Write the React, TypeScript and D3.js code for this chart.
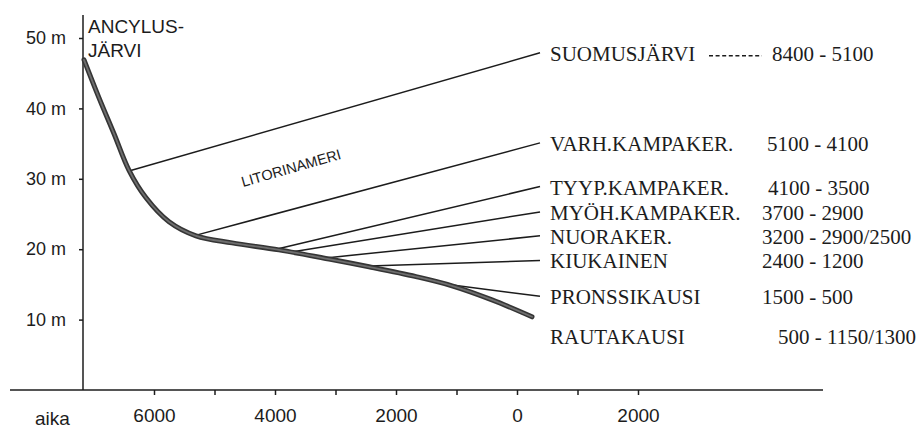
import { useRef, useEffect } from "react";
import * as d3 from "d3";

// shoreline curve: year (BC negative) and level above present sea (m)
const curveYears = [-7157, -6909, -6661, -6413, -6132, -5752, -5306, -4711, -3934, -3107, -2446, -1669, -1074, -413, 248];
const curveLevels = [46.9, 41.5, 36.4, 31.2, 27.3, 23.9, 21.9, 20.9, 19.9, 18.6, 17.5, 16.1, 14.8, 12.8, 10.4];

const periods = [
  "SUOMUSJÄRVI",
  "VARH.KAMPAKER.",
  "TYYP.KAMPAKER.",
  "MYÖH.KAMPAKER.",
  "NUORAKER.",
  "KIUKAINEN",
  "PRONSSIKAUSI",
  "RAUTAKAUSI",
];
const periodDates = [
  "8400 - 5100",
  "5100 - 4100",
  "4100 - 3500",
  "3700 - 2900",
  "3200 - 2900/2500",
  "2400 - 1200",
  "1500 - 500",
  "500 - 1150/1300",
];

// leader lines from the curve out to the labels
const branchStartYears = [-6413, -5300, -3930, -3730, -3120, -2450, -1070];
const branchStartLevels = [31.1, 22.0, 20.1, 19.6, 18.8, 17.6, 14.9];
const branchEndYear = 380;
const branchEndLevels = [47.9, 35.1, 28.9, 25.3, 21.9, 18.4, 13.3];

const yTicks = [10, 20, 30, 40, 50];
const xTicks = [-6000, -5000, -4000, -3000, -2000, -1000, 0, 1000, 2000];
const xLabelled = [-6000, -4000, -2000, 0, 2000];

const SANS = "'Liberation Sans', Arial, sans-serif";
const SERIF = "'Liberation Serif', 'Times New Roman', serif";
const INK = "#1c1c1c";

export default function App() {
  const svgRef = useRef<SVGSVGElement>(null);

  useEffect(() => {
    if (!svgRef.current) return;
    const svg = d3.select(svgRef.current);
    svg.selectAll("*").remove();

    const x = d3.scaleLinear().domain([-6000, 2000]).range([154, 638]);
    const y = d3.scaleLinear().domain([0, 50]).range([390, 38]);
    const axisX = 83;

    // x axis
    const gx = svg.append("g").attr("transform", `translate(0,${y(0)})`);
    gx.append("line")
      .attr("x1", 10).attr("x2", 823)
      .attr("stroke", INK).attr("stroke-width", 1.5);
    gx.call(
      d3.axisBottom(x)
        .tickValues(xTicks)
        .tickSize(5)
        .tickPadding(14)
        .tickFormat((d) => (xLabelled.includes(+d) ? String(Math.abs(+d)) : ""))
    );
    gx.select(".domain").remove();
    gx.selectAll(".tick line").attr("stroke", INK).attr("stroke-width", 1.5);
    gx.selectAll(".tick text")
      .attr("fill", INK)
      .attr("font-family", SANS)
      .attr("font-size", 19);

    svg.append("text")
      .attr("x", 35).attr("y", 425)
      .attr("font-family", SANS).attr("font-size", 19)
      .attr("fill", INK)
      .text("aika");

    // y axis
    const gy = svg.append("g").attr("transform", `translate(${axisX},0)`);
    gy.append("line")
      .attr("y1", 15).attr("y2", y(0))
      .attr("stroke", INK).attr("stroke-width", 1.5);
    gy.call(
      d3.axisLeft(y)
        .tickValues(yTicks)
        .tickSize(4)
        .tickPadding(13)
        .tickFormat((d) => `${d} m`)
    );
    gy.select(".domain").remove();
    gy.selectAll(".tick line").attr("stroke", INK).attr("stroke-width", 1.5);
    gy.selectAll(".tick text")
      .attr("fill", INK)
      .attr("font-family", SANS)
      .attr("font-size", 18);

    svg.append("text")
      .attr("font-family", SANS).attr("font-size", 19).attr("fill", INK)
      .selectAll("tspan")
      .data(["ANCYLUS-", "JÄRVI"])
      .join("tspan")
      .attr("x", 88)
      .attr("y", (_, i) => 33 + i * 24)
      .text((d) => d);

    // leader lines
    svg.append("g")
      .selectAll("line")
      .data(branchStartYears)
      .join("line")
      .attr("x1", (d) => x(d))
      .attr("y1", (_, i) => y(branchStartLevels[i]))
      .attr("x2", x(branchEndYear))
      .attr("y2", (_, i) => y(branchEndLevels[i]))
      .attr("stroke", INK)
      .attr("stroke-width", 1.5);

    // shoreline displacement curve, drawn as a dark band with a lighter core
    const pts = curveYears.map((yr, i) => [yr, curveLevels[i]] as [number, number]);
    const line = d3.line<[number, number]>()
      .x((d) => x(d[0]))
      .y((d) => y(d[1]))
      .curve(d3.curveCatmullRom.alpha(0.5));
    svg.append("path")
      .datum(pts)
      .attr("fill", "none")
      .attr("stroke", "#353535")
      .attr("stroke-width", 5)
      .attr("stroke-linecap", "round")
      .attr("d", line);
    svg.append("path")
      .datum(pts)
      .attr("fill", "none")
      .attr("stroke", "#6e6e6e")
      .attr("stroke-width", 1.8)
      .attr("stroke-linecap", "round")
      .attr("d", line);

    svg.append("text")
      .attr("transform", "translate(243,187) rotate(-16)")
      .attr("font-family", SANS).attr("font-size", 14.5).attr("fill", INK)
      .text("LITORINAMERI");

    // period labels
    const lastY = y(curveLevels[curveLevels.length - 1]);
    const labelY = (i: number) => (i < branchEndLevels.length ? y(branchEndLevels[i]) + 1 : lastY + 20);
    const dateX = [772, 767, 768, 762, 762, 762, 762, 778];

    const labels = svg.append("g").attr("font-family", SERIF).attr("fill", INK).attr("font-size", 21);
    labels.selectAll("text.period")
      .data(periods)
      .join("text")
      .attr("class", "period")
      .attr("x", 550)
      .attr("y", (_, i) => labelY(i))
      .attr("dominant-baseline", "central")
      .text((d) => d);
    labels.selectAll("text.date")
      .data(periodDates)
      .join("text")
      .attr("class", "date")
      .attr("x", (_, i) => dateX[i])
      .attr("y", (_, i) => labelY(i))
      .attr("dominant-baseline", "central")
      .text((d) => d);

    // dotted filler after SUOMUSJÄRVI
    svg.append("line")
      .attr("x1", 709).attr("x2", 762)
      .attr("y1", labelY(0) + 2).attr("y2", labelY(0) + 2)
      .attr("stroke", INK)
      .attr("stroke-width", 1.5)
      .attr("stroke-dasharray", "4,2.6");
  }, []);

  return (
    <svg
      ref={svgRef}
      width={917}
      height={432}
      style={{ position: "absolute", left: 0, top: 0, background: "#fff" }}
    />
  );
}
